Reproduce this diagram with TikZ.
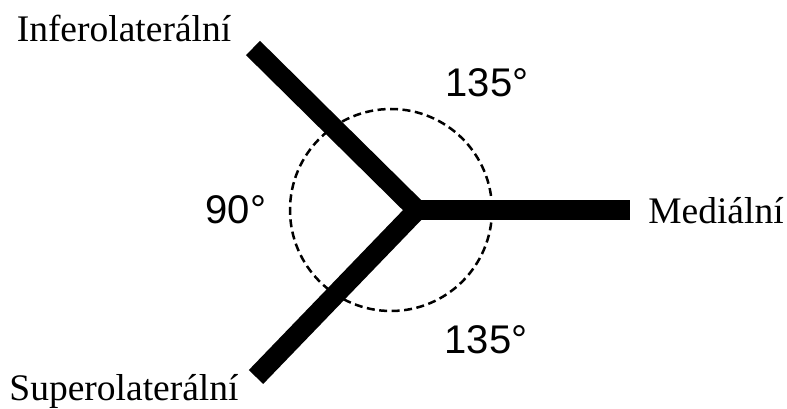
\documentclass[tikz,border=0pt]{standalone}
\usepackage{fontspec}
\setmainfont{Liberation Serif}
\newfontfamily\arialfont{Liberation Sans}
\begin{document}
\begin{tikzpicture}[x=1pt,y=-1pt,
  arm/.style={line width=20pt,line join=miter,line cap=butt,draw=black},
  dashcircle/.style={draw=black,line width=2.5pt,dash pattern=on 8pt off 4.5pt},
  namelabel/.style={inner sep=0pt,anchor=base,font=\fontsize{37.5}{40}\selectfont},
  anglelabel/.style={inner sep=0pt,anchor=base,font=\arialfont\fontsize{40}{44}\selectfont}]
\useasboundingbox[fill=white] (0,0) rectangle (787,409);
% geometry
\coordinate (J) at (417,210);
\coordinate (ul) at (253,48);
\coordinate (ll) at (256,377);
\coordinate (mr) at (630,210);
\coordinate (cc) at (391,210);
% dashed circle
\draw[dashcircle] (cc) circle[radius=101];
% arms
\draw[arm] (ul) -- (J) -- (ll);
\draw[arm] (J) -- (mr);
% names
\node[namelabel] (inf) at (124,42) {Inferolaterální};
\node[namelabel] (med) at (716,223) {Mediální};
\node[namelabel] (sup) at (124,400) {Superolaterální};
% angles
\node[anglelabel] (a1) at (487,97) {135°};
\node[anglelabel] (a2) at (236,223) {90°};
\node[anglelabel] (a3) at (486,353) {135°};
\end{tikzpicture}
\end{document}
